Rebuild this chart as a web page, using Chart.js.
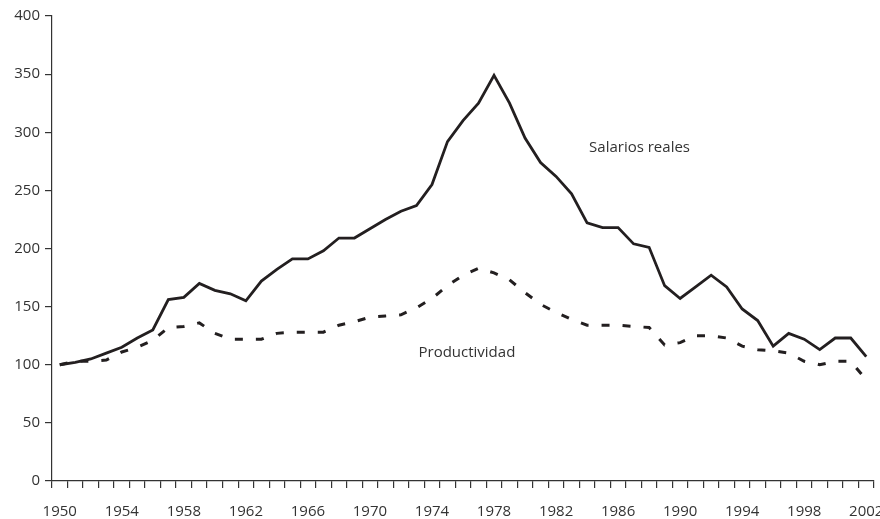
<!DOCTYPE html>
<html>
<head>
<meta charset="utf-8">
<script src="https://cdn.jsdelivr.net/npm/chart.js@4/dist/chart.umd.min.js"></script>
<style>
  html, body { margin: 0; padding: 0; background: #fff; }
  #wrap { width: 880px; height: 519px; }
</style>
</head>
<body>
<div id="wrap"><canvas id="chartSalarios"></canvas></div>
<script>
var years = [1950, 1951, 1952, 1953, 1954, 1955, 1956, 1957, 1958, 1959,
  1960, 1961, 1962, 1963, 1964, 1965, 1966, 1967, 1968, 1969,
  1970, 1971, 1972, 1973, 1974, 1975, 1976, 1977, 1978, 1979,
  1980, 1981, 1982, 1983, 1984, 1985, 1986, 1987, 1988, 1989,
  1990, 1991, 1992, 1993, 1994, 1995, 1996, 1997, 1998, 1999,
  2000, 2001, 2002];

var salariosReales = [100, 102, 105, 110, 115, 123, 130, 156, 158, 170,
  164, 161, 155, 172, 182, 191, 191, 198, 209, 209,
  217, 225, 232, 237, 255, 292, 310, 325, 349, 325,
  295, 274, 262, 247, 222, 218, 218, 204, 201, 168,
  157, 167, 177, 167, 148, 138, 116, 127, 122, 113,
  123, 123, 107];

var productividad = [100, 103, 103, 104, 111, 115, 121, 132, 133, 136,
  127, 122, 122, 122, 127, 128, 128, 128, 134, 137,
  141, 142, 143, 149, 157, 168, 177, 183, 179, 173,
  162, 152, 145, 139, 134, 134, 134, 133, 132, 117,
  119, 125, 125, 123, 116, 113, 112, 110, 103, 100,
  103, 103, 87];

var yTicks = [0, 50, 100, 150, 200, 250, 300, 350, 400];
var shownYears = [1950, 1954, 1958, 1962, 1966, 1970, 1974, 1978, 1982, 1986, 1990, 1994, 1998, 2002];

var inkColor = '#231f20';
var axisColor = '#333333';
var textFont = { family: "'Open Sans', 'Noto Sans', sans-serif", size: 15 };

// etiquetas de las series dentro del grafico
var seriesLabels = {
  id: 'seriesLabels',
  afterDatasetsDraw: function (chart) {
    var c = chart.ctx;
    var x = chart.scales.x, y = chart.scales.y;
    var items = [
      { text: 'Salarios reales', year: 1984, value: 287 },
      { text: 'Productividad', year: 1973, value: 110 }
    ];
    c.save();
    c.font = textFont.size + 'px ' + textFont.family;
    c.fillStyle = axisColor;
    c.textAlign = 'left';
    c.textBaseline = 'middle';
    items.forEach(function (it) {
      c.fillText(it.text, x.getPixelForValue(years.indexOf(it.year)) + 2, y.getPixelForValue(it.value));
    });
    c.restore();
  }
};

var ctx = document.getElementById('chartSalarios').getContext('2d');
var myChart = new Chart(ctx, {
  type: 'line',
  data: {
    labels: years,
    datasets: [{
      label: 'Salarios reales',
      data: salariosReales,
      borderColor: inkColor,
      borderWidth: 2.8,
      pointRadius: 0,
      tension: 0,
      fill: false
    }, {
      label: 'Productividad',
      data: productividad,
      borderColor: inkColor,
      borderWidth: 3,
      borderDash: [8, 13],
      pointRadius: 0,
      tension: 0,
      fill: false
    }]
  },
  options: {
    responsive: true,
    maintainAspectRatio: false,
    animation: false,
    layout: { padding: { top: 16, right: 6, left: 0, bottom: 0 } },
    plugins: {
      legend: { display: false },
      tooltip: { enabled: false }
    },
    scales: {
      x: {
        offset: true,
        grid: {
          offset: true,
          drawOnChartArea: false,
          drawTicks: true,
          tickLength: 7,
          color: axisColor,
          lineWidth: 1.2
        },
        border: { display: true, color: axisColor, width: 1.2 },
        ticks: {
          autoSkip: false,
          maxRotation: 0,
          minRotation: 0,
          padding: 15,
          color: axisColor,
          font: textFont,
          callback: function (val, i) {
            var yr = years[i];
            return shownYears.indexOf(yr) >= 0 ? String(yr) : '';
          }
        },
        afterFit: function (scale) {
          scale.height = 38;
          scale.paddingLeft = 0;
          scale.paddingRight = 0;
        }
      },
      y: {
        min: 0,
        max: 400,
        afterBuildTicks: function (scale) {
          scale.ticks = yTicks.map(function (v) { return { value: v }; });
        },
        grid: {
          drawOnChartArea: false,
          drawTicks: true,
          tickLength: 7,
          color: axisColor,
          lineWidth: 1.2
        },
        border: { display: true, color: axisColor, width: 1.2 },
        ticks: {
          padding: 5,
          color: axisColor,
          font: textFont
        },
        afterFit: function (scale) {
          scale.width = 52;
        }
      }
    }
  },
  plugins: [seriesLabels]
});
</script>
</body>
</html>
